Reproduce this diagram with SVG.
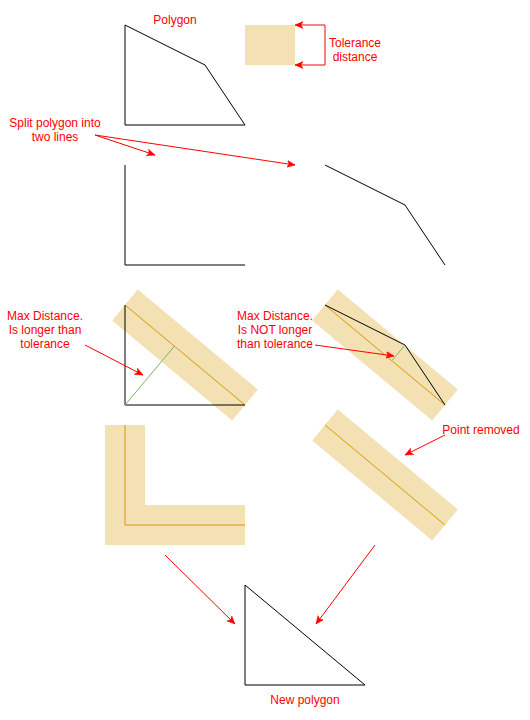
<svg xmlns="http://www.w3.org/2000/svg" width="530" height="720" viewBox="0 0 530 720">
<style>
.t{font-family:"Liberation Sans",Arial,sans-serif;font-size:12px;fill:#ff0000;text-anchor:middle}
.poly{fill:none;stroke:#000;stroke-width:1}
.band{fill:#f3e1b3;stroke:none}
.ol{fill:none;stroke:#d79b00;stroke-width:1}
.gl{fill:none;stroke:#82b366;stroke-width:1}
.arr{fill:none;stroke:#ff0000;stroke-width:1;marker-end:url(#ah)}
</style>
<defs>
<marker id="ah" markerUnits="userSpaceOnUse" markerWidth="10" markerHeight="9" refX="8" refY="4" orient="auto" viewBox="0 0 10 9">
<path d="M0,0.5 L8,4 L0,7.5 L2,4 Z" fill="#ff0000" stroke="#ff0000" stroke-width="0.5"/>
</marker>
</defs>
<rect width="530" height="720" fill="#fff"/>

<g id="polygon">
<path class="poly" d="M125,25 L205,65 L245,125 L125,125 Z"/>
<text class="t" x="175" y="24">Polygon</text>
</g>

<g id="tolerance">
<rect x="245" y="25" width="50" height="40" fill="#f3e1b3"/>
<text class="t" x="355" y="47">Tolerance</text>
<text class="t" x="355" y="61">distance</text>
</g>

<g id="split-label">
<text class="t" x="55" y="127">Split polygon into</text>
<text class="t" x="55" y="141">two lines</text>
</g>

<g id="line-left">
<path class="poly" d="M125,165 L125,265 L245,265"/>
</g>
<g id="line-right">
<path class="poly" d="M325,165 L405,205 L445,265"/>
</g>

<g id="check-left">
<polygon class="band" points="112.2,320.4 137.8,289.6 257.8,389.6 232.2,420.4"/>
<line class="ol" x1="125" y1="305" x2="245" y2="405"/>
<path class="poly" d="M125,305 L125,405 L245,405"/>
<line class="gl" x1="125" y1="405" x2="174.5" y2="346"/>
<text class="t" x="45" y="320">Max Distance.</text>
<text class="t" x="45" y="334">Is longer than</text>
<text class="t" x="45" y="348">tolerance</text>
</g>

<g id="check-right">
<polygon class="band" points="312.2,320.4 337.8,289.6 457.8,389.6 432.2,420.4"/>
<line class="ol" x1="325" y1="305" x2="445" y2="405"/>
<path class="poly" d="M325,305 L405,345 L445,405"/>
<line class="gl" x1="405" y1="345" x2="392" y2="360.5"/>
<text class="t" x="275" y="320">Max Distance.</text>
<text class="t" x="275" y="334">Is NOT longer</text>
<text class="t" x="275" y="348">than tolerance</text>
</g>

<g id="result-left">
<polygon class="band" points="105,425 145,425 145,505 245,505 245,545 105,545"/>
<path class="ol" d="M125,425 L125,525 L245,525"/>
</g>

<g id="result-right">
<polygon class="band" points="312.2,440.4 337.8,409.6 457.8,509.6 432.2,540.4"/>
<line class="ol" x1="325" y1="425" x2="445" y2="525"/>
<text class="t" x="481" y="434">Point removed</text>
</g>

<g id="new-polygon">
<path class="poly" d="M245,585 L245,685 L365,685 Z"/>
<text class="t" x="305" y="704">New polygon</text>
</g>

<g id="connectors">
<path class="arr" d="M325,45 L325,25 L295,25"/>
<path class="arr" d="M325,45 L325,65 L295,65"/>
<line class="arr" x1="95" y1="135" x2="155" y2="155"/>
<line class="arr" x1="95" y1="135" x2="295" y2="165"/>
<line class="arr" x1="85" y1="345" x2="143" y2="375"/>
<line class="arr" x1="315" y1="345" x2="394" y2="356"/>
<line class="arr" x1="445" y1="435" x2="405" y2="455"/>
<line class="arr" x1="165" y1="555" x2="235" y2="624"/>
<line class="arr" x1="375" y1="545" x2="316" y2="624"/>
</g>
</svg>
